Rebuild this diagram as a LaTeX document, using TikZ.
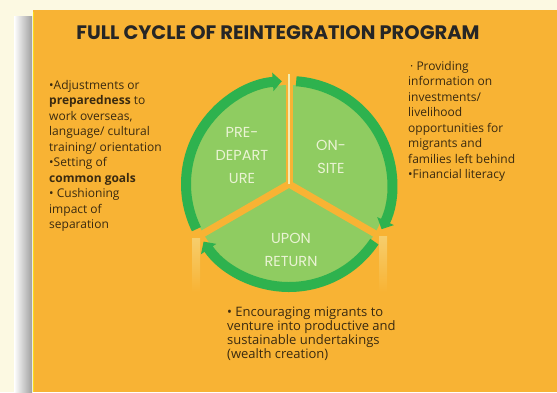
\documentclass[tikz,border=0pt]{standalone}
\usepackage{fontspec}
\setmainfont{Open Sans}
\newfontfamily\titlefont{Poppins}
\usetikzlibrary{arrows.meta}

\definecolor{cream}{HTML}{FCF9E2}
\definecolor{panel}{HTML}{F8B334}
\definecolor{ringgreen}{HTML}{2EB24E}
\definecolor{fillgreen}{HTML}{8FCC61}
\definecolor{labelwhite}{HTML}{EAF3D4}
\definecolor{ink}{HTML}{3A2A10}
\definecolor{paleline}{HTML}{F4EDB0}

\tikzset{
  ring/.style={draw=ringgreen,line width=10pt,-{Triangle[length=9pt,width=18pt]}},
  spoke/.style={draw=panel,line width=7pt},
  phase/.style={text=labelwhite,align=center,font=\titlefont\fontsize{14.5}{23}\selectfont},
  note/.style={text=ink,align=left,anchor=north west,inner sep=0pt,
    font=\fontsize{12}{15.5}\selectfont}
}

\begin{document}
\begin{tikzpicture}[x=1pt,y=1pt]
\useasboundingbox (0,0) rectangle (557,-392);
\fill[cream] (0,0) rectangle (557,-392);
% shadow down the left edge of the board
\shade[left color=white,right color=gray!75] (14,-16) rectangle (32,-392);
\fill[panel] (33,-10) rectangle (557,-392);
\draw[yellow!60!panel,line width=1pt] (33.5,-12) -- (33.5,-392);

\node (title) at (278,-33) {\titlefont\bfseries\fontsize{19.5}{22}\selectfont\color{black!85}FULL CYCLE OF REINTEGRATION PROGRAM};

% the cycle
\coordinate (c) at (289,-184);
\fill[fillgreen] (c) circle[radius=99];
\draw[ring] (c) ++(206:103) arc[start angle=206,end angle=94,radius=103];
\draw[ring] (c) ++(86:103) arc[start angle=86,end angle=-26,radius=103];
\draw[ring] (c) ++(-34:103) arc[start angle=-34,end angle=-146,radius=103];
\foreach \a in {90,210,330}
  \draw[spoke] (c) -- ++(\a:114);
\draw[paleline,line width=1.5pt] (c) -- ++(90:110);
% faded streaks under the lower spokes
\shade[top color=paleline!45!panel,bottom color=panel] (192,-238) rectangle (200,-292);
\shade[top color=paleline!45!panel,bottom color=panel] (379,-236) rectangle (387,-292);

\node[phase] (predep) at (242,-155) {PRE-\\DEPART\\URE};
\node[phase] (onsite) at (331,-157) {ON-\\SITE};
\node[phase] (upon) at (291,-250) {UPON\\RETURN};

\node[note] (before) at (49,-80) {•Adjustments or\\
  \textbf{preparedness} to\\ work overseas,\\ language/ cultural\\
  training/ orientation\\ •Setting of\\ \textbf{common goals}\\
  • Cushioning\\ impact of\\ separation};
\node[note] (during) at (408,-61) {\,· Providing\\ information on\\
  investments/\\ livelihood\\ opportunities for\\ migrants and\\
  families left behind\\ •Financial literacy};
\node[note,font=\fontsize{13}{14}\selectfont] (after) at (227,-307) {• Encouraging migrants to\\
  venture into productive and\\ sustainable undertakings\\
  (wealth creation)};
\end{tikzpicture}
\end{document}
